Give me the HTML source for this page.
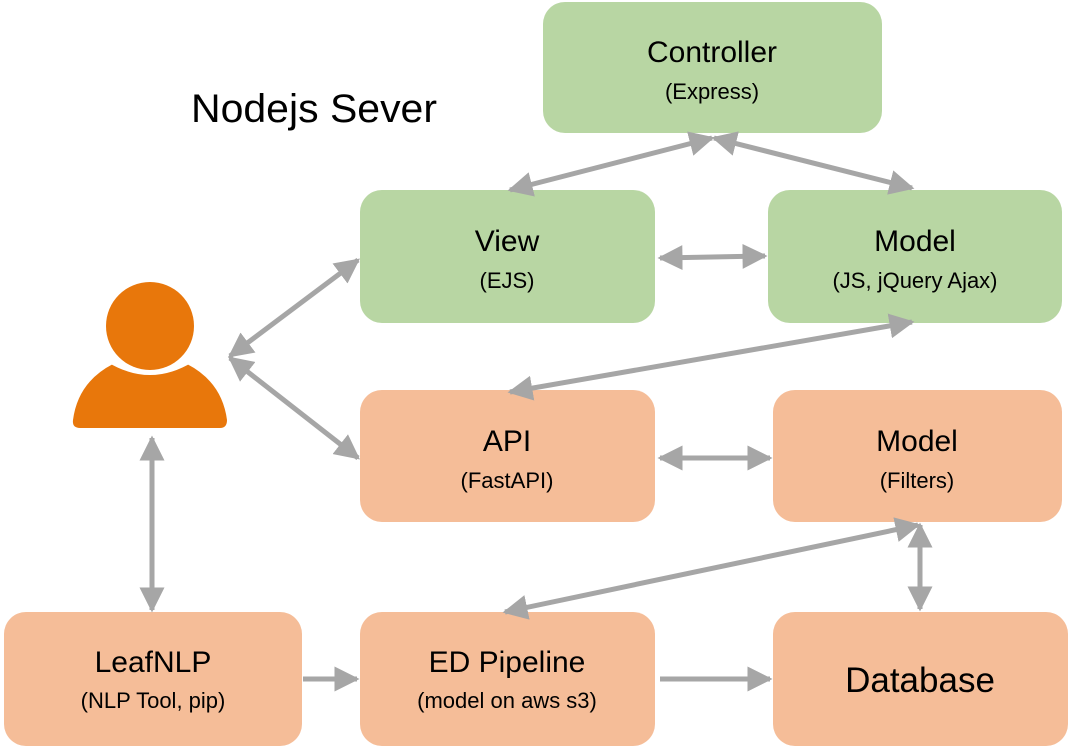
<!DOCTYPE html>
<html><head><meta charset="utf-8"><style>
html,body{margin:0;padding:0;background:#fff;}
svg{display:block;}
text{font-family:"Liberation Sans",sans-serif;fill:#000;text-anchor:middle;}
.t{font-size:30px;}
.s{font-size:22px;}
</style></head><body>
<svg width="1072" height="747" viewBox="0 0 1072 747">
<defs>
<marker id="a" viewBox="0 0 10 10" refX="9" refY="5" markerWidth="5" markerHeight="5" orient="auto-start-reverse" markerUnits="strokeWidth">
<path d="M0,0 L10,5 L0,10 z" fill="#a6a6a6"/>
</marker>
</defs>
<g fill="#b8d6a3">
<rect x="543" y="2" width="339" height="131" rx="22"/>
<rect x="360" y="190" width="295" height="133" rx="22"/>
<rect x="768" y="190" width="294" height="133" rx="22"/>
</g>
<g fill="#f5bd98">
<rect x="360" y="390" width="295" height="132" rx="22"/>
<rect x="773" y="390" width="289" height="132" rx="22"/>
<rect x="4" y="612" width="298" height="134" rx="22"/>
<rect x="360" y="612" width="295" height="134" rx="22"/>
<rect x="773" y="612" width="295" height="134" rx="22"/>
</g>
<g stroke="#a6a6a6" stroke-width="5" fill="none">
<line x1="510" y1="190" x2="712" y2="138" marker-start="url(#a)" marker-end="url(#a)"/>
<line x1="714" y1="138" x2="912" y2="188" marker-start="url(#a)" marker-end="url(#a)"/>
<line x1="660" y1="258" x2="765" y2="256" marker-start="url(#a)" marker-end="url(#a)"/>
<line x1="230" y1="356" x2="358" y2="260" marker-start="url(#a)" marker-end="url(#a)"/>
<line x1="230" y1="358" x2="358" y2="458" marker-start="url(#a)" marker-end="url(#a)"/>
<line x1="912" y1="322" x2="510" y2="392" marker-start="url(#a)" marker-end="url(#a)"/>
<line x1="660" y1="458" x2="770" y2="458" marker-start="url(#a)" marker-end="url(#a)"/>
<line x1="918" y1="525" x2="505" y2="612" marker-start="url(#a)" marker-end="url(#a)"/>
<line x1="920" y1="525" x2="920" y2="609" marker-start="url(#a)" marker-end="url(#a)"/>
<line x1="152" y1="438" x2="152" y2="610" marker-start="url(#a)" marker-end="url(#a)"/>
<line x1="303" y1="679" x2="357" y2="679" marker-end="url(#a)"/>
<line x1="660" y1="679" x2="770" y2="679" marker-end="url(#a)"/>
</g>
<g fill="#e8770b">
<circle cx="150" cy="326" r="44"/>
<path d="M113,364 Q150,385 187,364 Q222,382 227,420 Q227,428 220,428 L80,428 Q72,428 73,420 Q78,382 113,364 Z"/>
</g>
<path d="M108,360 Q150,386 192,360" stroke="#fff" stroke-width="4" fill="none"/>
<text x="314" y="122" style="font-size:40px" textLength="246" lengthAdjust="spacingAndGlyphs">Nodejs Sever</text>
<text class="t" x="712" y="62">Controller</text>
<text class="s" x="712" y="99">(Express)</text>
<text class="t" x="507" y="251">View</text>
<text class="s" x="507" y="288">(EJS)</text>
<text class="t" x="915" y="251">Model</text>
<text class="s" x="915" y="288">(JS, jQuery Ajax)</text>
<text class="t" x="507" y="451">API</text>
<text class="s" x="507" y="488">(FastAPI)</text>
<text class="t" x="917" y="451">Model</text>
<text class="s" x="917" y="488">(Filters)</text>
<text class="t" x="153" y="672">LeafNLP</text>
<text class="s" x="153" y="708">(NLP Tool, pip)</text>
<text class="t" x="507" y="672">ED Pipeline</text>
<text class="s" x="507" y="708">(model on aws s3)</text>
<text x="920" y="692" style="font-size:35px">Database</text>
</svg>
</body></html>
